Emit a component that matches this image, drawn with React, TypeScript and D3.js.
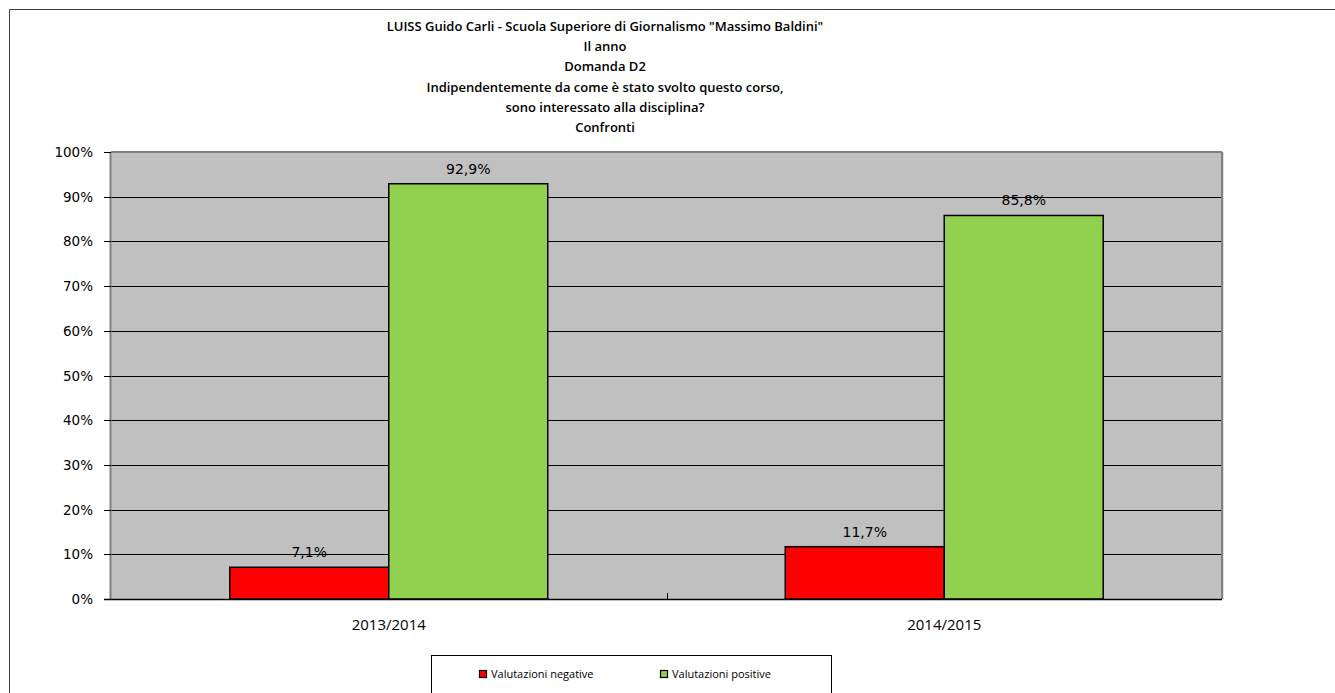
import React from "react";
import * as d3 from "d3";

const titleLines = [
  "LUISS Guido Carli - Scuola Superiore di Giornalismo \"Massimo Baldini\"",
  "Il anno",
  "Domanda D2",
  "Indipendentemente da come è stato svolto questo corso,",
  "sono interessato alla disciplina?",
  "Confronti",
];
const categories = ["2013/2014", "2014/2015"];
const seriesNames = ["Valutazioni negative", "Valutazioni positive"];
const seriesColors = ["#FF0000", "#92D050"];
const negative = [7.1, 11.7];
const positive = [92.9, 85.8];
const yTicks = [0, 10, 20, 30, 40, 50, 60, 70, 80, 90, 100];

const W = 1335;
const H = 693;
const plot = { left: 111, top: 152, right: 1222, bottom: 599 };

export default function App() {
  const x = d3
    .scaleBand<string>()
    .domain(categories)
    .range([plot.left, plot.right])
    .paddingInner(0)
    .paddingOuter(0);
  const y = d3.scaleLinear().domain([0, 100]).range([plot.bottom, plot.top]);
  const inner = d3
    .scaleBand<number>()
    .domain([0, 1])
    .range([0, x.bandwidth()])
    .paddingInner(0)
    .paddingOuter(0.747);
  const series = [negative, positive];
  const fmt = (v: number) => v.toFixed(1).replace(".", ",") + "%";

  return (
    <svg
      width={W}
      height={H}
      style={{ position: "absolute", left: 0, top: 0, display: "block" }}
    >
      <rect x={0} y={0} width={W} height={H} fill="#fff" />
      {/* outer frame */}
      <path d={`M9.5,${H + 5} L9.5,9.5 L${W + 5},9.5`} fill="none" stroke="#404040" strokeWidth={1} />
      {/* title */}
      <g
        fontFamily="'Open Sans', sans-serif"
        fontWeight={600}
        fontSize={13}
        fill="#000"
        textAnchor="middle"
      >
        {titleLines.map((t, i) => (
          <text key={i} x={605} y={31 + i * 20.2}>
            {t}
          </text>
        ))}
      </g>
      {/* plot background */}
      <rect
        x={plot.left}
        y={plot.top}
        width={plot.right - plot.left}
        height={plot.bottom - plot.top}
        fill="#C0C0C0"
      />
      {/* gridlines */}
      {yTicks
        .filter((t) => t > 0 && t < 100)
        .map((t) => (
          <line
            key={t}
            x1={plot.left}
            x2={plot.right}
            y1={Math.round(y(t)) + 0.5}
            y2={Math.round(y(t)) + 0.5}
            stroke="#000"
            strokeWidth={1}
          />
        ))}
      {/* plot frame top and right */}
      <line x1={plot.left} x2={plot.right} y1={plot.top} y2={plot.top} stroke="#808080" strokeWidth={2} />
      <line x1={plot.right} x2={plot.right} y1={plot.top} y2={plot.bottom} stroke="#808080" strokeWidth={2} />
      <line x1={plot.right + 1.5} x2={plot.right + 1.5} y1={plot.top} y2={plot.bottom + 1} stroke="#e0e0e0" strokeWidth={1} />
      {/* bars */}
      {categories.map((c, ci) =>
        series.map((s, si) => {
          const bx = (x(c) as number) + (inner(si) as number);
          const bw = inner.bandwidth();
          const by = y(s[ci]);
          return (
            <g key={c + si}>
              <rect
                x={bx}
                y={by}
                width={bw}
                height={plot.bottom - by}
                fill={seriesColors[si]}
                stroke="#000"
                strokeWidth={1.5}
              />
              <text
                x={bx + bw / 2}
                y={by - 10}
                textAnchor="middle"
                fontFamily="'DejaVu Sans', Verdana, sans-serif"
                fontSize={14}
                fill="#000"
              >
                {fmt(s[ci])}
              </text>
            </g>
          );
        })
      )}
      {/* y axis */}
      <line x1={plot.left - 0.5} x2={plot.left - 0.5} y1={plot.top} y2={plot.bottom} stroke="#808080" strokeWidth={2} />
      {yTicks.map((t) => (
        <g key={t}>
          <line
            x1={plot.left - 7}
            x2={plot.left}
            y1={Math.round(y(t)) + 0.5}
            y2={Math.round(y(t)) + 0.5}
            stroke="#000"
          />
          <text
            x={93}
            y={y(t) + 5}
            textAnchor="end"
            fontFamily="'DejaVu Sans', Verdana, sans-serif"
            fontSize={13.5}
            fill="#000"
          >
            {t}%
          </text>
        </g>
      ))}
      {/* x axis */}
      <line x1={plot.left - 7} x2={plot.right} y1={plot.bottom + 0.5} y2={plot.bottom + 0.5} stroke="#000" strokeWidth={1.5} />
      {categories.slice(1).map((c) => (
        <line
          key={c}
          x1={Math.round(x(c) as number) + 0.5}
          x2={Math.round(x(c) as number) + 0.5}
          y1={plot.bottom}
          y2={plot.bottom - 6}
          stroke="#000"
        />
      ))}
      {categories.map((c) => (
        <text
          key={c}
          x={(x(c) as number) + x.bandwidth() / 2}
          y={630}
          textAnchor="middle"
          fontFamily="'Open Sans', sans-serif"
          fontSize={15}
          fill="#000"
        >
          {c}
        </text>
      ))}
      {/* legend */}
      <rect x={431.5} y={655.5} width={400} height={50} fill="#fff" stroke="#000" strokeWidth={1} />
      {seriesNames.map((n, i) => {
        const lx = [479, 660][i];
        return (
          <g key={n}>
            <rect x={lx + 0.5} y={670.5} width={7} height={7} fill={seriesColors[i]} stroke="#000" strokeWidth={1.2} />
            <text
              x={lx + 12}
              y={678}
              fontFamily="'Open Sans', sans-serif"
              fontSize={11}
              fill="#000"
            >
              {n}
            </text>
          </g>
        );
      })}
    </svg>
  );
}
